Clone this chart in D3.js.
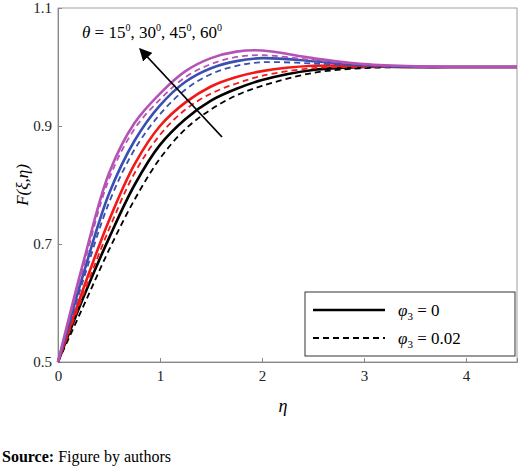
<!DOCTYPE html><html><head><meta charset="utf-8"><script src="https://cdn.jsdelivr.net/npm/d3@7"></script>
<style>body{margin:0;background:#fff}svg text{font-family:"Liberation Serif","Times New Roman",serif !important}</style></head><body><svg id="c" width="520" height="470"></svg><script>
const eta=[0,0.25,0.5,0.75,1,1.25,1.5,1.75,2,2.5,3,3.5,4,4.5];
const blackSolid=[0.5,0.61,0.71,0.80,0.868,0.912,0.943,0.963,0.978,0.995,1.0,1.0,1.0,1.0];
const blackDash=[0.5,0.595,0.69,0.775,0.845,0.895,0.928,0.952,0.968,0.99,0.998,1.0,1.0,1.0];
const redSolid=[0.5,0.625,0.74,0.835,0.90,0.94,0.967,0.983,0.993,1.002,1.002,1.0,1.0,1.0];
const redDash=[0.5,0.615,0.725,0.82,0.885,0.928,0.955,0.972,0.985,0.998,1.0,1.0,1.0,1.0];
const blueSolid=[0.5,0.65,0.785,0.875,0.935,0.975,0.998,1.01,1.015,1.01,1.003,1.0,1.0,1.0];
const blueDash=[0.5,0.64,0.77,0.86,0.92,0.962,0.988,1.002,1.008,1.006,1.002,1.0,1.0,1.0];
const purpSolid=[0.5,0.67,0.82,0.905,0.955,0.993,1.015,1.026,1.028,1.015,1.005,1.001,1.0,1.0];
const purpDash=[0.5,0.662,0.81,0.895,0.945,0.983,1.005,1.017,1.02,1.012,1.004,1.001,1.0,1.0];
const xTicks=[0,1,2,3,4], yTicks=[0.5,0.7,0.9,1.1];
const series=[[blackSolid,"#000",0],[blackDash,"#000",1],[redSolid,"#f21818",0],[redDash,"#f21818",1],
[blueSolid,"#3a4fb0",0],[blueDash,"#3a4fb0",1],[purpSolid,"#b552b5",0],[purpDash,"#b552b5",1]];
const svg=d3.select("#c");
const x=d3.scaleLinear().domain([0,4.5]).range([58,517]);
const y=d3.scaleLinear().domain([0.5,1.1]).range([362,8]);
svg.append("rect").attr("x",58).attr("y",8).attr("width",459).attr("height",354).attr("fill","none").attr("stroke","#888").attr("stroke-width",0.8);
const ax=svg.append("g").attr("transform","translate(0,362)").call(d3.axisBottom(x).tickValues(xTicks).tickSize(-4).tickPadding(8).tickFormat(d3.format("d")));
const ay=svg.append("g").attr("transform","translate(58,0)").call(d3.axisLeft(y).tickValues(yTicks).tickSize(-4).tickPadding(6).tickFormat(d3.format(".1f")));
[ax,ay].forEach(a=>{a.select(".domain").attr("stroke","#888");a.selectAll("line").attr("stroke","#888");a.selectAll("text").attr("font-size",15).attr("fill","#222");});
const line=d3.line().x((d,i)=>x(eta[i])).y(d=>y(d)).curve(d3.curveCatmullRom);
series.forEach(([v,c,dash])=>svg.append("path").attr("d",line(v)).attr("fill","none").attr("stroke",c).attr("stroke-width",dash?1.8:2.6).attr("stroke-dasharray",dash?"6,4":null));
svg.append("defs").append("marker").attr("id","ah").attr("viewBox","0 0 10 10").attr("refX",9).attr("refY",5).attr("markerWidth",7).attr("markerHeight",7).attr("orient","auto").append("path").attr("d","M0,0L10,5L0,10z").attr("fill","#000");
svg.append("line").attr("x1",222).attr("y1",137).attr("x2",140).attr("y2",49).attr("stroke","#000").attr("stroke-width",1.8).attr("marker-end","url(#ah)");
svg.append("text").attr("x",82).attr("y",38).attr("font-size",17).attr("font-style","italic").html('θ <tspan font-style="normal">= 15</tspan><tspan font-size="10" dy="-7" font-style="normal">0</tspan><tspan dy="7" font-style="normal">, 30</tspan><tspan font-size="10" dy="-7" font-style="normal">0</tspan><tspan dy="7" font-style="normal">, 45</tspan><tspan font-size="10" dy="-7" font-style="normal">0</tspan><tspan dy="7" font-style="normal">, 60</tspan><tspan font-size="10" dy="-7" font-style="normal">0</tspan>');
const lg=svg.append("g");
lg.append("rect").attr("x",305).attr("y",292).attr("width",210).attr("height",64).attr("fill","#fff").attr("stroke","#000").attr("stroke-width",0.8);
lg.append("line").attr("x1",313).attr("x2",385).attr("y1",310).attr("y2",310).attr("stroke","#000").attr("stroke-width",2.6);
lg.append("line").attr("x1",313).attr("x2",385).attr("y1",338).attr("y2",338).attr("stroke","#000").attr("stroke-width",1.8).attr("stroke-dasharray","6,4");
lg.append("text").attr("x",398).attr("y",316).attr("font-size",17).html('<tspan font-style="italic">φ</tspan><tspan font-size="11" dy="4">3</tspan><tspan dy="-4"> = 0</tspan>');
lg.append("text").attr("x",398).attr("y",344).attr("font-size",17).html('<tspan font-style="italic">φ</tspan><tspan font-size="11" dy="4">3</tspan><tspan dy="-4"> = 0.02</tspan>');
svg.append("text").attr("x",283).attr("y",412).attr("text-anchor","middle").attr("font-size",18).attr("font-style","italic").text("η");
svg.append("text").attr("transform","translate(28,185) rotate(-90)").attr("text-anchor","middle").attr("font-size",17).attr("font-style","italic").text("F(ξ,η)");
svg.append("text").attr("x",2).attr("y",462).attr("font-size",16).html('<tspan font-weight="bold">Source:</tspan> Figure by authors');
</script></body></html>
